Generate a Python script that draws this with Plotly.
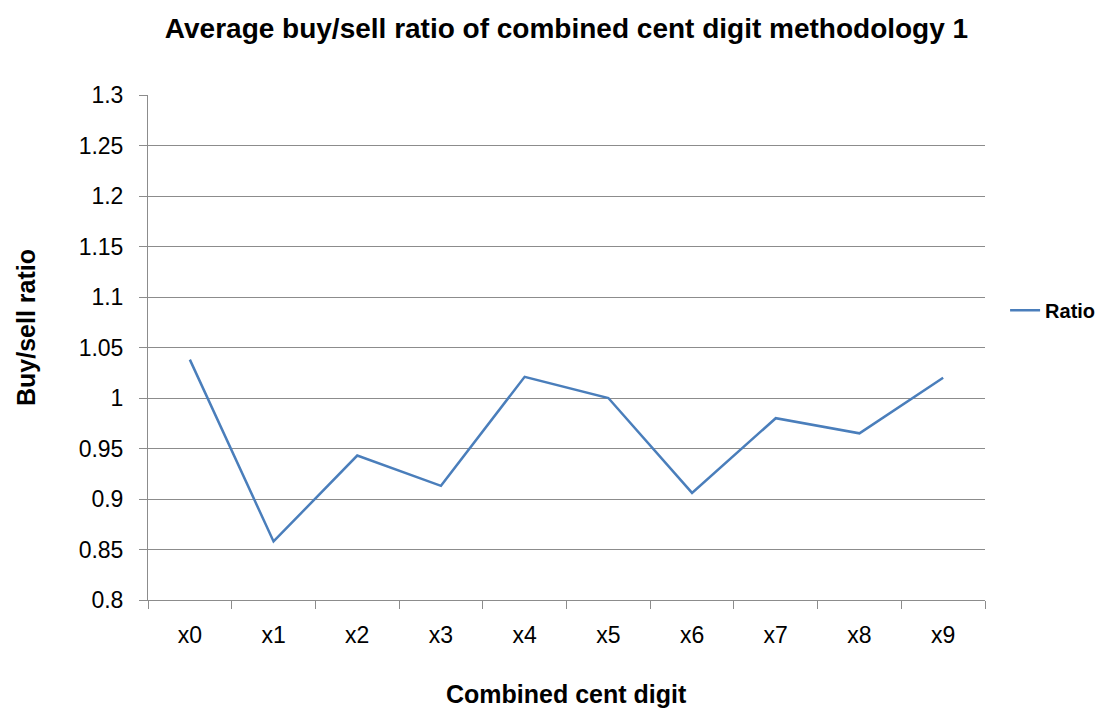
import plotly.graph_objects as go

categories = ["x0", "x1", "x2", "x3", "x4", "x5", "x6", "x7", "x8", "x9"]
ratio = [1.038, 0.858, 0.943, 0.913, 1.021, 1.000, 0.906, 0.980, 0.965, 1.020]
y_ticks = [0.8, 0.85, 0.9, 0.95, 1.0, 1.05, 1.1, 1.15, 1.2, 1.25, 1.3]
y_tick_text = ["0.8", "0.85", "0.9", "0.95", "1", "1.05", "1.1", "1.15", "1.2", "1.25", "1.3"]

FONT = "Liberation Sans, Arial, sans-serif"
GRID = "#8c8c8c"

# page body has an 8px margin, so figure coordinates are viewport - 8
fig = go.Figure()
fig.add_trace(go.Scatter(
    x=categories, y=ratio, mode="lines", name="<b>Ratio</b>",
    line=dict(color="#4A7EBB", width=2.5),
))

fig.update_layout(
    width=1096, height=702,
    paper_bgcolor="white", plot_bgcolor="white",
    margin=dict(l=140, r=119, t=87, b=110, autoexpand=False),
    font=dict(family=FONT, size=23, color="black"),
    title=dict(text="<b>Average buy/sell ratio of combined cent digit methodology 1</b>",
               x=0.5, xref="paper", xanchor="center",
               y=1 - 20 / 702, yanchor="middle",
               font=dict(family=FONT, size=28, color="black")),
    showlegend=True,
    legend=dict(x=1.024, xanchor="left", y=0.574, yanchor="middle",
                font=dict(family=FONT, size=20, color="black"),
                bgcolor="rgba(0,0,0,0)", itemwidth=30),
)

fig.update_xaxes(
    type="category", tickson="boundaries",
    range=[-0.5, 9.5],
    showline=True, linecolor=GRID, linewidth=1,
    ticks="outside", ticklen=8, tickcolor=GRID, tickwidth=1,
    showgrid=False, ticklabelstandoff=14,
    tickfont=dict(family=FONT, size=23, color="black"),
)
fig.update_yaxes(
    range=[0.8, 1.3], tickvals=y_ticks, ticktext=y_tick_text,
    showline=True, linecolor=GRID, linewidth=1,
    ticks="outside", ticklen=8, tickcolor=GRID, tickwidth=1,
    showgrid=True, gridcolor=GRID, gridwidth=1,
    zeroline=False, ticklabelstandoff=11,
    tickfont=dict(family=FONT, size=23, color="black"),
)

fig.add_annotation(text="<b>Buy/sell ratio</b>", xref="paper", yref="paper",
                   x=0, y=(592 - 320) / 505, xshift=-122, textangle=-90,
                   showarrow=False, xanchor="center", yanchor="middle",
                   font=dict(family=FONT, size=25, color="black"))
fig.add_annotation(text="<b>Combined cent digit</b>", xref="paper", yref="paper",
                   x=0.5, y=0, yshift=-94, showarrow=False,
                   xanchor="center", yanchor="middle",
                   font=dict(family=FONT, size=25, color="black"))

fig.write_html("out.html")
